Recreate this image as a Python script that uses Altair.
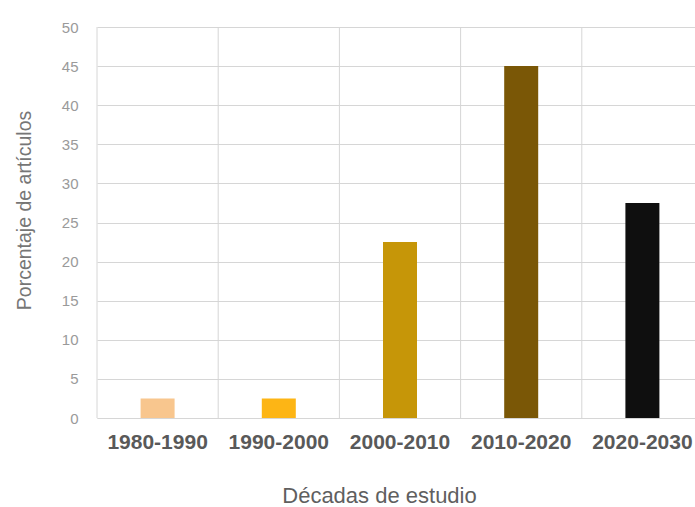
import altair as alt
import pandas as pd

# Share of articles per decade of study
decadas = ["1980-1990", "1990-2000", "2000-2010", "2010-2020", "2020-2030"]
porcentajes = [2.5, 2.5, 22.5, 45, 27.5]
colores = ["#F8C68E", "#FDB515", "#C69608", "#7A5706", "#0F0F0F"]

df = pd.DataFrame({"decada": decadas, "porcentaje": porcentajes, "color": colores})

FONT = "Liberation Sans"
GRID = "#d6d6d6"

x_scale = alt.Scale(domain=decadas, range=[0, 606], paddingInner=0, paddingOuter=0)

x_axis = alt.Axis(
    labelAngle=0,
    labelFont=FONT,
    labelFontSize=21,
    labelFontWeight="bold",
    labelColor="#595959",
    labelBaseline="alphabetic",
    labelPadding=30,
    ticks=False,
    domain=True,
    domainColor=GRID,
    grid=False,
    titleFont=FONT,
    titleFontSize=22,
    titleFontWeight="normal",
    titleColor="#5f5f5f",
    titleX=282,
    titleY=84,
    titleAlign="center",
    titleBaseline="alphabetic",
)
x_title = "Décadas de estudio"

# vertical separators at the start of each decade band
separadores = alt.Chart(df).mark_rule(color=GRID, strokeWidth=1).encode(
    x=alt.X("decada:N", scale=x_scale, sort=decadas, bandPosition=0,
            title=x_title, axis=x_axis),
)

barras = alt.Chart(df).mark_bar(size=34).encode(
    x=alt.X("decada:N", scale=x_scale, sort=decadas, title=x_title, axis=x_axis),
    y=alt.Y(
        "porcentaje:Q",
        scale=alt.Scale(domain=[0, 50], nice=False),
        title="Porcentaje de artículos",
        axis=alt.Axis(
            values=list(range(0, 55, 5)),
            labelFont=FONT,
            labelFontSize=15,
            labelColor="#9a9a9a",
            labelPadding=19,
            labelBaseline="middle",
            ticks=False,
            domain=False,
            grid=True,
            gridColor=GRID,
            gridWidth=1,
            titleFont=FONT,
            titleFontSize=19.5,
            titleFontWeight="normal",
            titleColor="#767676",
            titleX=-73,
            titleY=183,
            titleAlign="center",
            titleBaseline="middle",
            titleAngle=270,
        ),
    ),
    color=alt.Color("color:N", scale=None, legend=None),
)

chart = (
    alt.layer(separadores, barras)
    .properties(
        width=598,
        height=391,
        autosize=alt.AutoSizeParams(type="none"),
        padding={"left": 97, "top": 27, "right": 0, "bottom": 89},
        background="white",
    )
    .configure_view(stroke=None)
)

chart.save("out.html", embed_options={"renderer": "svg", "actions": False})
